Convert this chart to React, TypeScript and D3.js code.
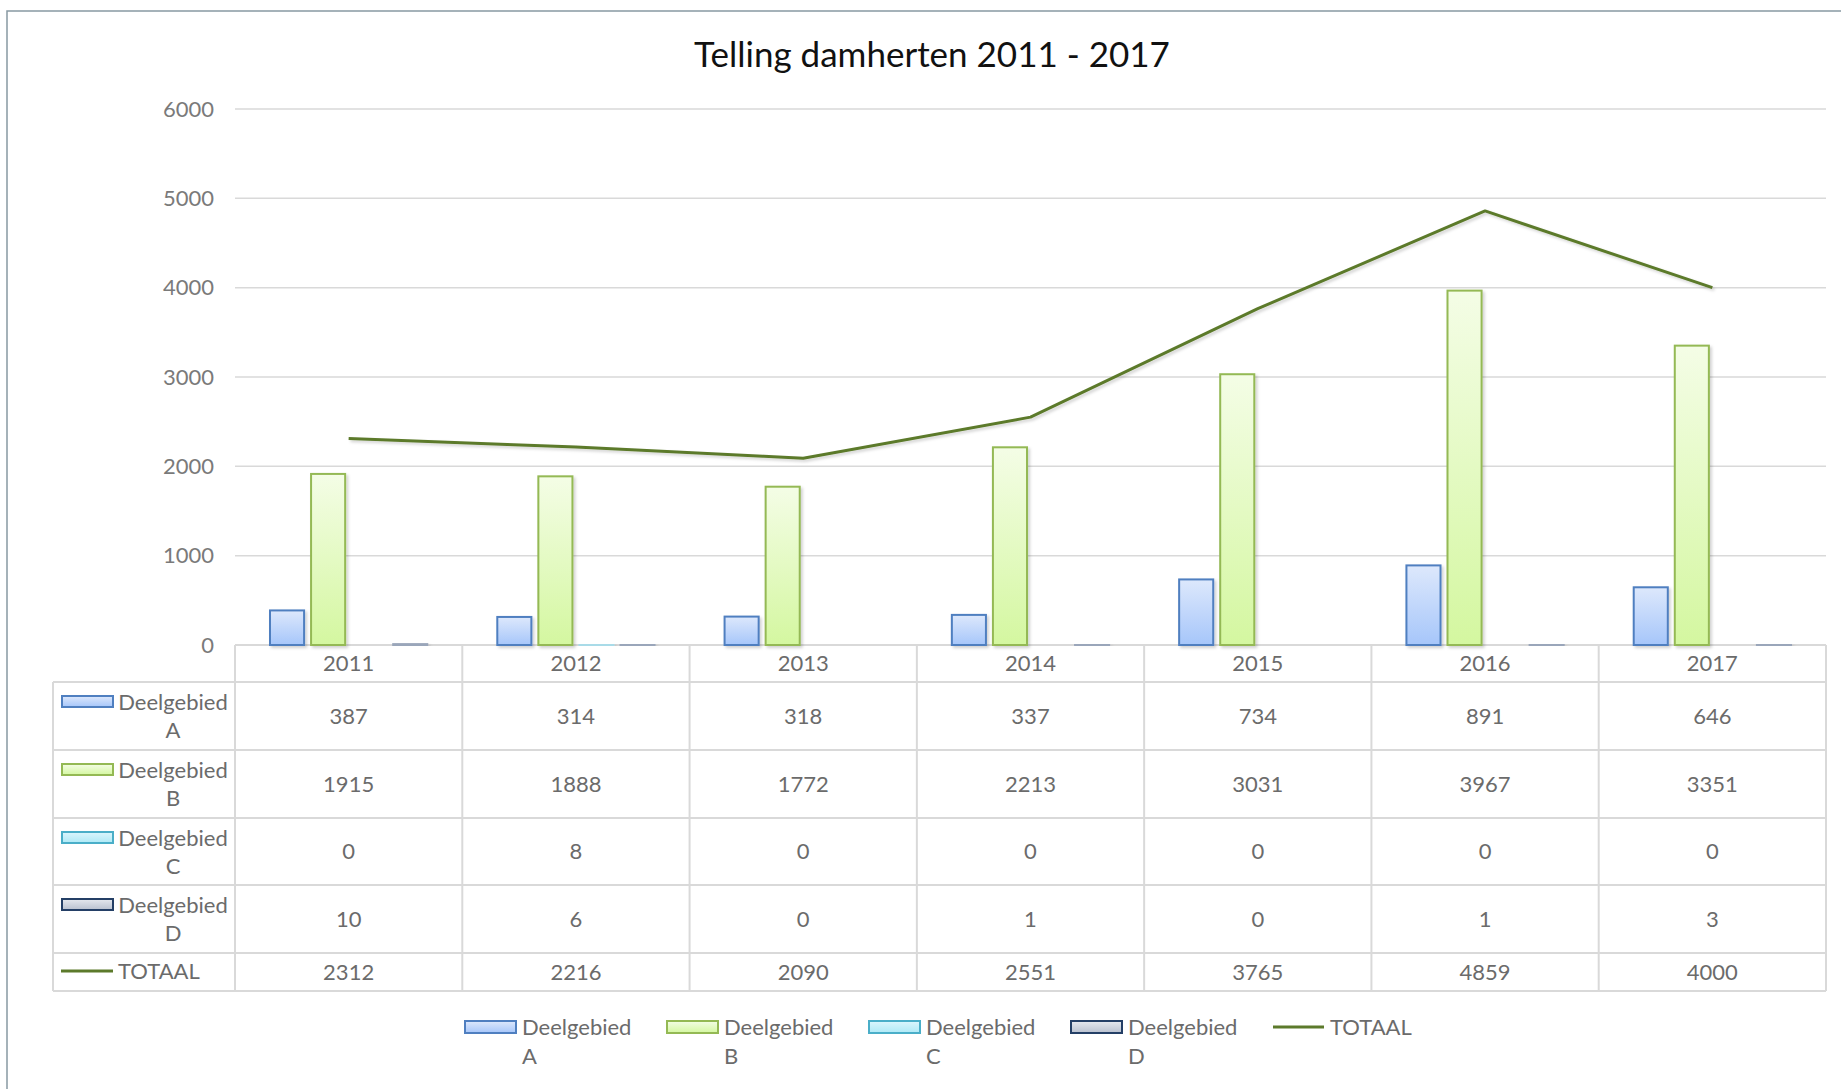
import React, { useRef, useEffect } from 'react';
import * as d3 from 'd3';

const YEARS = ["2011", "2012", "2013", "2014", "2015", "2016", "2017"];
const DEEL_A = [387, 314, 318, 337, 734, 891, 646];
const DEEL_B = [1915, 1888, 1772, 2213, 3031, 3967, 3351];
const DEEL_C = [0, 8, 0, 0, 0, 0, 0];
const DEEL_D = [10, 6, 0, 1, 0, 1, 3];
const TOTAAL = [2312, 2216, 2090, 2551, 3765, 4859, 4000];
const Y_TICKS = [0, 1000, 2000, 3000, 4000, 5000, 6000];

const SERIES = [
    { key: "A", name: "Deelgebied", sub: "A", values: DEEL_A, top: "#dde8fc", bottom: "#a6c6fa", stroke: "#4f7fc0", thin: "#4f7fc0" },
    { key: "B", name: "Deelgebied", sub: "B", values: DEEL_B, top: "#f4fde6", bottom: "#d4f7a0", stroke: "#94b954", thin: "#94b954" },
    { key: "C", name: "Deelgebied", sub: "C", values: DEEL_C, top: "#dcf6fd", bottom: "#aee9f6", stroke: "#4aaec8", thin: "#a9dbe8" },
    { key: "D", name: "Deelgebied", sub: "D", values: DEEL_D, top: "#e6e9ef", bottom: "#b8c0cf", stroke: "#243f66", thin: "#9aa6ba" },
];

const LINE_COLOR = "#5c7a2b";
const GRID = "#d9d9d9";
const TEXT = "#6b6b6b";
const FONT = "Lato, 'Open Sans', sans-serif";
const FS = "22px";

const W = 1841;
const H = 1089;

const App: React.FC = () => {
    const svgRef = useRef<SVGSVGElement>(null);

    useEffect(() => {
        if (!svgRef.current) return;
        const svg = d3.select(svgRef.current);
        svg.selectAll("*").remove();

        const left = 235, right = 1826, top = 109, base = 645;

        const x0 = d3.scaleBand().domain(YEARS).range([left, right]).padding(0);
        const x1 = d3.scaleBand().domain(SERIES.map(s => s.key))
            .range([35, x0.bandwidth() - 35]).paddingInner(0.17).paddingOuter(0);
        const y = d3.scaleLinear().domain([0, 6000]).range([base, top]);

        const defs = svg.append("defs");
        SERIES.forEach(s => {
            const g = defs.append("linearGradient").attr("id", "grad" + s.key)
                .attr("x1", 0).attr("y1", 0).attr("x2", 0).attr("y2", 1);
            g.append("stop").attr("offset", "0%").attr("stop-color", s.top);
            g.append("stop").attr("offset", "100%").attr("stop-color", s.bottom);
        });
        const f = defs.append("filter").attr("id", "shadow")
            .attr("x", "-20%").attr("y", "-20%").attr("width", "150%").attr("height", "150%");
        f.append("feDropShadow").attr("dx", 2).attr("dy", 2).attr("stdDeviation", 1.5)
            .attr("flood-color", "#000").attr("flood-opacity", 0.18);

        svg.append("rect").attr("width", W).attr("height", H).attr("fill", "#fff");
        svg.append("rect").attr("x", 7).attr("y", 11).attr("width", W).attr("height", H)
            .attr("fill", "none").attr("stroke", "#8899a2").attr("stroke-width", 1.5);

        svg.append("text")
            .attr("x", 932).attr("y", 67)
            .attr("text-anchor", "middle")
            .style("font-family", FONT).style("font-size", "35px").attr("fill", "#111")
            .text("Telling damherten 2011 - 2017");

        // gridlines
        svg.append("g").selectAll("line")
            .data(Y_TICKS.filter(t => t > 0))
            .join("line")
            .attr("x1", left).attr("x2", right)
            .attr("y1", d => y(d)).attr("y2", d => y(d))
            .attr("stroke", GRID).attr("stroke-width", 1.5);

        svg.append("g").selectAll("text")
            .data(Y_TICKS)
            .join("text")
            .attr("x", 214).attr("y", d => y(d))
            .attr("dy", "0.35em")
            .attr("text-anchor", "end")
            .style("font-family", FONT).style("font-size", FS).attr("fill", "#7a7a7a")
            .text(d => d);

        // data table
        const rowEdges = [645, 682, 750, 818, 885, 953, 991];
        const tableLeft = 53;
        const tbl = svg.append("g");
        rowEdges.forEach((ry, i) => {
            tbl.append("line")
                .attr("x1", i === 0 ? left : tableLeft).attr("x2", right)
                .attr("y1", ry).attr("y2", ry)
                .attr("stroke", GRID).attr("stroke-width", 2);
        });
        const colEdges = YEARS.map(yr => x0(yr) || 0).concat([right]);
        colEdges.forEach(cx => {
            tbl.append("line")
                .attr("x1", cx).attr("x2", cx).attr("y1", 645).attr("y2", 991)
                .attr("stroke", GRID).attr("stroke-width", 2);
        });
        tbl.append("line")
            .attr("x1", tableLeft).attr("x2", tableLeft).attr("y1", 682).attr("y2", 991)
            .attr("stroke", GRID).attr("stroke-width", 2);

        // header row
        tbl.selectAll("text.hdr")
            .data(YEARS)
            .join("text")
            .attr("class", "hdr")
            .attr("x", d => (x0(d) || 0) + x0.bandwidth() / 2)
            .attr("y", (rowEdges[0] + rowEdges[1]) / 2)
            .attr("dy", "0.35em")
            .attr("text-anchor", "middle")
            .style("font-family", FONT).style("font-size", FS).attr("fill", TEXT)
            .text(d => d);

        const rows = [...SERIES.map(s => s.values), TOTAAL];
        rows.forEach((vals, r) => {
            const cy = (rowEdges[r + 1] + rowEdges[r + 2]) / 2;
            tbl.append("g").selectAll("text")
                .data(vals)
                .join("text")
                .attr("x", (_, i) => (x0(YEARS[i]) || 0) + x0.bandwidth() / 2)
                .attr("y", cy)
                .attr("dy", "0.35em")
                .attr("text-anchor", "middle")
                .style("font-family", FONT).style("font-size", FS).attr("fill", TEXT)
                .text(d => d);
        });

        // row legend keys
        SERIES.forEach((s, r) => {
            const ry = rowEdges[r + 1];
            tbl.append("rect")
                .attr("x", 62).attr("y", ry + 14).attr("width", 51).attr("height", 11)
                .attr("fill", `url(#grad${s.key})`).attr("stroke", s.stroke).attr("stroke-width", 2);
            tbl.append("text")
                .attr("x", 173).attr("y", ry + 20).attr("dy", "0.35em")
                .attr("text-anchor", "middle")
                .style("font-family", FONT).style("font-size", FS).attr("fill", TEXT)
                .text(s.name);
            tbl.append("text")
                .attr("x", 173).attr("y", ry + 48).attr("dy", "0.35em")
                .attr("text-anchor", "middle")
                .style("font-family", FONT).style("font-size", FS).attr("fill", TEXT)
                .text(s.sub);
        });
        tbl.append("line")
            .attr("x1", 61).attr("x2", 113).attr("y1", 971).attr("y2", 971)
            .attr("stroke", LINE_COLOR).attr("stroke-width", 3);
        tbl.append("text")
            .attr("x", 118).attr("y", 971).attr("dy", "0.35em")
            .style("font-family", FONT).style("font-size", FS).attr("fill", TEXT)
            .text("TOTAAL");

        // bars (drawn over the table's top edge)
        SERIES.forEach(s => {
            svg.append("g").selectAll("rect")
                .data(s.values.map((v, i) => ({ v, year: YEARS[i] })).filter(d => d.v > 0))
                .join("rect")
                .attr("x", d => (x0(d.year) || 0) + (x1(s.key) || 0))
                .attr("y", d => y(d.v))
                .attr("width", x1.bandwidth())
                .attr("height", d => base - y(d.v))
                .attr("fill", `url(#grad${s.key})`)
                .attr("stroke", d => base - y(d.v) < 4 ? s.thin : s.stroke)
                .attr("stroke-width", 2)
                .attr("filter", "url(#shadow)");
        });

        // TOTAAL line
        const line = d3.line<number>()
            .x((_, i) => (x0(YEARS[i]) || 0) + x0.bandwidth() / 2)
            .y(d => y(d));
        svg.append("path")
            .datum(TOTAAL)
            .attr("d", line)
            .attr("fill", "none")
            .attr("stroke", LINE_COLOR)
            .attr("stroke-width", 3)
            .attr("stroke-linejoin", "round")
            .attr("filter", "url(#shadow)");

        // bottom legend
        const leg = svg.append("g");
        const legX = d3.scaleLinear().domain([0, 1]).range([465, 667]);
        SERIES.forEach((s, i) => {
            const lx = legX(i);
            leg.append("rect")
                .attr("x", lx).attr("y", 1021).attr("width", 51).attr("height", 12)
                .attr("fill", `url(#grad${s.key})`).attr("stroke", s.stroke).attr("stroke-width", 2);
            leg.append("text")
                .attr("x", lx + 57).attr("y", 1027).attr("dy", "0.35em")
                .style("font-family", FONT).style("font-size", FS).attr("fill", TEXT)
                .text(s.name);
            leg.append("text")
                .attr("x", lx + 57).attr("y", 1056).attr("dy", "0.35em")
                .style("font-family", FONT).style("font-size", FS).attr("fill", TEXT)
                .text(s.sub);
        });
        const tx = legX(4);
        leg.append("line")
            .attr("x1", tx).attr("x2", tx + 51).attr("y1", 1027).attr("y2", 1027)
            .attr("stroke", LINE_COLOR).attr("stroke-width", 3);
        leg.append("text")
            .attr("x", tx + 57).attr("y", 1027).attr("dy", "0.35em")
            .style("font-family", FONT).style("font-size", FS).attr("fill", TEXT)
            .text("TOTAAL");
    }, []);

    return (
        <div style={{ position: 'absolute', left: 0, top: 0, width: W, height: H, overflow: 'hidden' }}>
            <svg ref={svgRef} width={W} height={H} style={{ display: 'block' }} />
        </div>
    );
};

export default App;
